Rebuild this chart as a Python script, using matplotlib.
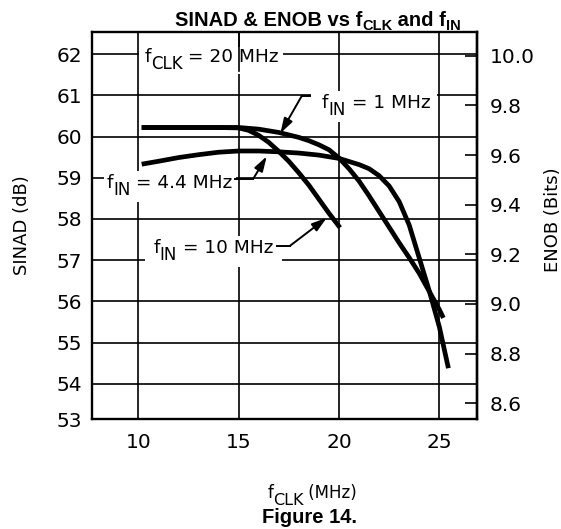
import matplotlib
matplotlib.use('Agg')
import matplotlib.pyplot as plt
from matplotlib.transforms import offset_copy, IdentityTransform
from matplotlib.patches import Rectangle

# ---------------- data ----------------
fclk_1mhz = [10.17, 11, 12, 13, 14, 15, 16, 17, 18, 18.5, 19, 19.5, 20, 20.5,
             21, 21.5, 22, 22.5, 23, 23.5, 24, 24.5, 25, 25.2]
sinad_1mhz = [60.22, 60.22, 60.22, 60.22, 60.22, 60.22, 60.18, 60.10, 59.98, 59.90,
              59.80, 59.68, 59.48, 59.22, 58.92, 58.56, 58.18, 57.80, 57.42, 57.06,
              56.68, 56.24, 55.80, 55.60]

fclk_4p4mhz = [10.17, 11, 12, 13, 14, 15, 16, 17, 18, 19, 20, 21, 21.5, 22, 22.5,
               23, 23.5, 24, 24.5, 25, 25.45]
sinad_4p4mhz = [59.33, 59.40, 59.49, 59.56, 59.62, 59.65, 59.65, 59.63, 59.60, 59.55,
                59.47, 59.32, 59.22, 59.05, 58.80, 58.42, 57.85, 57.05, 56.25, 55.38,
                54.38]

fclk_10mhz = [10.17, 11, 12, 13, 14, 15, 15.5, 16, 16.5, 17, 17.5, 18, 18.5, 19,
              19.5, 20.05]
sinad_10mhz = [60.22, 60.22, 60.22, 60.22, 60.22, 60.21, 60.15, 60.03, 59.86, 59.64,
               59.40, 59.12, 58.82, 58.48, 58.14, 57.79]

x_ticks = [10, 15, 20, 25]
sinad_ticks = [54, 55, 56, 57, 58, 59, 60, 61, 62]
enob_ticks = [8.6, 8.8, 9.0, 9.2, 9.4, 9.6, 9.8, 10.0]

# ---------------- figure ----------------
W, H = 561, 529
fig = plt.figure(figsize=(W / 100, H / 100), dpi=100)
L, R, T, B = 91.7, 476.7, 32.3, 419.3
ax = fig.add_axes([L / W, 1 - B / H, (R - L) / W, (B - T) / H])

YMIN, YMAX = 53.14, 62.53
ax.set_xlim(7.68, 26.86)
ax.set_ylim(YMIN, YMAX)
ax.set_xticks(x_ticks)
ax.set_xticklabels([str(v) for v in x_ticks])
ax.set_yticks([YMIN] + sinad_ticks)
ax.set_yticklabels(['53'] + [str(v) for v in sinad_ticks])
ax.set_axisbelow(True)
ax.grid(True, color='black', lw=1.2)
ax.tick_params(axis='both', length=0, labelsize=14.5, colors='black')
ax.tick_params(axis='x', pad=10)
ax.tick_params(axis='y', pad=7)
for sp in ax.spines.values():
    sp.set_linewidth(1.7)

for xs, ys in [(fclk_1mhz, sinad_1mhz), (fclk_4p4mhz, sinad_4p4mhz), (fclk_10mhz, sinad_10mhz)]:
    ax.plot(xs, ys, color='black', lw=3.4, solid_joinstyle='round', solid_capstyle='butt', zorder=3)

# right axis: ENOB = (SINAD - 1.76) / 6.02
sec = ax.secondary_yaxis('right', functions=(lambda s: (s - 1.76) / 6.02,
                                             lambda e: e * 6.02 + 1.76))
sec.set_yticks(enob_ticks)
sec.set_yticklabels(['%.1f' % v for v in enob_ticks])
sec.tick_params(direction='in', length=9, width=1.2, pad=9.5, labelsize=14.5)
sec.spines['right'].set_linewidth(1.7)

fig.canvas.draw()
renderer = fig.canvas.get_renderer()


def piece_width(s, size, weight, family):
    t1 = fig.text(0, 0, 'X' + s + 'X', fontsize=size, fontweight=weight, family=family)
    t2 = fig.text(0, 0, 'XX', fontsize=size, fontweight=weight, family=family)
    w = t1.get_window_extent(renderer).width - t2.get_window_extent(renderer).width
    t1.remove(); t2.remove()
    return w


def rich(x, y, pieces, transform, ha='left', family='DejaVu Sans', mask=None, where=None):
    where = where or fig
    widths = [piece_width(s, sz, wt, family) for s, sz, dy, wt in pieces]
    total = sum(widths)
    x0 = {'left': 0, 'center': -total / 2, 'right': -total}[ha]
    texts = []
    for (s, sz, dy, wt), w in zip(pieces, widths):
        tr = offset_copy(transform, fig=fig, x=x0, y=dy, units='dots')
        t = where.text(x, y, s, transform=tr, fontsize=sz, fontweight=wt, family=family,
                       ha='left', va='baseline', color='black', zorder=5)
        texts.append(t)
        x0 += w
    if mask is not None:
        bbs = [t.get_window_extent(renderer) for t in texts]
        x1 = min(b.x0 for b in bbs) - mask[0]
        x2 = max(b.x1 for b in bbs) + mask[1]
        y1 = min(b.y0 for b in bbs) - mask[2]
        y2 = max(b.y1 for b in bbs) + mask[3]
        ax.add_patch(Rectangle((x1, y1), x2 - x1, y2 - y1, transform=IdentityTransform(),
                               fc='white', ec='none', zorder=2))
    return texts


SZ = 13.3
SUB = 12.0
# in-plot labels
rich(10.33, 61.80, [('f', SZ, 0, 'normal'), ('CLK', SUB, -7, 'normal'), (' = 20 MHz', SZ, 0, 'normal')],
     ax.transData, mask=(6, 5, 1, 1), where=ax)
# the 15 MHz grid line shows through the gap between "20" and "MHz" in the reference
ax.plot([15, 15], [61.6, YMAX], color='black', lw=1.2, zorder=2.2)
rich(19.14, 60.70, [('f', SZ, 0, 'normal'), ('IN', SUB, -7, 'normal'), (' = 1 MHz', SZ, 0, 'normal')],
     ax.transData, mask=(11, 7, 3, 3), where=ax)
rich(8.42, 58.76, [('f', SZ, 0, 'normal'), ('IN', SUB, -7, 'normal'), (' = 4.4 MHz', SZ, 0, 'normal')],
     ax.transData, mask=(3, 3, 3, 3), where=ax)
rich(10.75, 57.18, [('f', SZ, 0, 'normal'), ('IN', SUB, -7, 'normal'), (' = 10 MHz', SZ, 0, 'normal')],
     ax.transData, mask=(8, 8, 3, 3), where=ax)

# leaders with arrows
arrow = dict(arrowstyle='-|>,head_length=0.9,head_width=0.28', lw=1.4, color='black',
             shrinkA=0, shrinkB=0)
leaders = [((18.55, 60.99), (18.15, 60.99), (17.08, 60.08)),
           ((14.82, 58.97), (15.72, 58.97), (16.40, 59.52)),
           ((16.90, 57.35), (17.56, 57.35), (19.39, 58.03))]
for a, k, tip in leaders:
    ax.plot([a[0], k[0]], [a[1], k[1]], color='black', lw=1.4, zorder=4)
    ax.annotate('', xy=tip, xytext=k, arrowprops=arrow, zorder=4)

# axis labels
fig.text(21.7 / W, 1 - 225 / H, 'SINAD (dB)', rotation=90, ha='center', va='center',
         fontsize=13, family='DejaVu Sans')
fig.text(553 / W, 1 - 220 / H, 'ENOB (Bits)', rotation=90, ha='center', va='center',
         fontsize=13, family='DejaVu Sans')

rich(312 / W, 1 - 498 / H, [('f', 12, 0, 'normal'), ('CLK', 11.5, -7, 'normal'), (' (MHz)', 12, 0, 'normal')],
     fig.transFigure, ha='center')

# title and caption
rich(318 / W, 1 - 26 / H, [('SINAD & ENOB vs f', 14.5, 0, 'bold'), ('CLK', 10.5, -4, 'bold'),
                            (' and f', 14.5, 0, 'bold'), ('IN', 10.5, -4, 'bold')],
     fig.transFigure, ha='center', family='Liberation Sans')
rich(310 / W, 1 - 523 / H, [('Figure 14.', 14.5, 0, 'bold')], fig.transFigure, ha='center',
     family='Liberation Sans')

fig.savefig('out.png', dpi=100)
